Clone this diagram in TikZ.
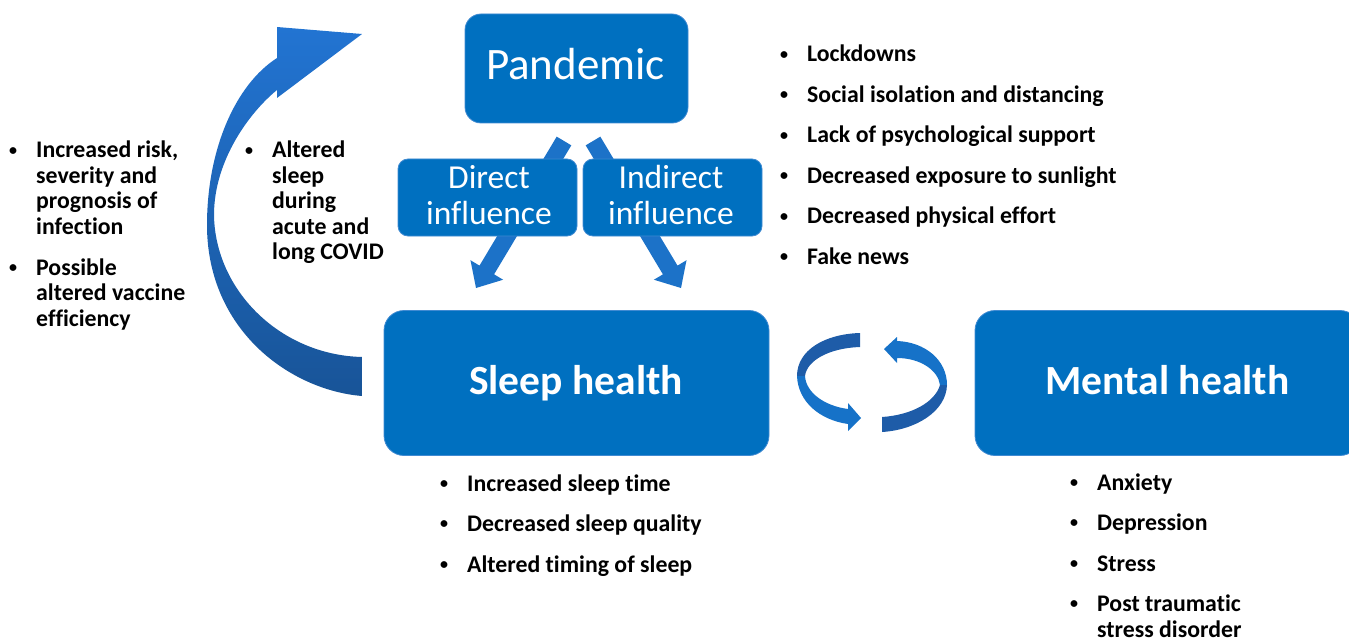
\documentclass[tikz,border=0pt]{standalone}
\usepackage{fontspec}
\setmainfont{Carlito}[Ligatures=NoCommon]
\usetikzlibrary{calc}

\definecolor{boxblue}{RGB}{0,112,192}
\definecolor{boxedge}{RGB}{64,138,210}
\definecolor{arrblue}{RGB}{28,114,200}
\definecolor{ribdark}{RGB}{30,92,168}
\definecolor{riblight}{RGB}{22,114,200}
\definecolor{curtop}{RGB}{34,116,210}
\definecolor{curbot}{RGB}{24,84,152}

% small bullet followed by a fixed gap
\newcommand\bul{\makebox[28pt][l]{\hspace{1pt}\raisebox{2.8pt}{\fontsize{16}{16}\selectfont •}}}

% straight block arrow from coordinate #1 to tip #2
\newcommand\flowarrow[2]{%
  \coordinate (#1-b) at ($(#2)!21pt!(#1)$);
  \fill[arrblue] ($(#1)!8.5pt!90:(#2)$) -- ($(#1-b)!8.5pt!90:(#2)$)
    -- ($(#1-b)!19pt!90:(#2)$) -- (#2) -- ($(#1-b)!19pt!-90:(#2)$)
    -- ($(#1-b)!8.5pt!-90:(#2)$) -- ($(#1)!8.5pt!-90:(#2)$) -- cycle;}

\begin{document}
\begin{tikzpicture}[x=1pt,y=-1pt,
  box/.style={draw=boxedge, line width=0.8pt, fill=boxblue,
    inner sep=0pt, outer sep=0pt},
  boxtxt/.style={text=white, inner sep=0pt, anchor=base},
  bullets/.style={inner sep=0pt, anchor=base west, align=left,
    font=\bfseries\fontsize{23.8}{25.5}\selectfont}]

\useasboundingbox (0,0) rectangle (1349,639);
\clip (0,0) rectangle (1349,639);

% block arrows from the pandemic down to sleep health
\coordinate (ds) at (564,141);
\coordinate (dt) at (476,288);
\coordinate (is) at (593,141);
\coordinate (it) at (681,288);
\flowarrow{ds}{dt}
\flowarrow{is}{it}

% boxes
\node[box, rounded corners=16pt, minimum width=223pt, minimum height=109pt] (pand) at (576.5,68.5) {};
\node[box, rounded corners=10pt, minimum width=179pt, minimum height=77pt] (dir) at (487.5,197.5) {};
\node[box, rounded corners=10pt, minimum width=179pt, minimum height=77pt] (ind) at (672.5,197.5) {};
\node[box, rounded corners=20pt, minimum width=385pt, minimum height=145pt] (sleep) at (576.5,383) {};
\node[box, rounded corners=20pt, minimum width=385pt, minimum height=145pt] (mental) at (1167.5,383) {};

% box captions
\node[boxtxt, font=\fontsize{45}{50}\selectfont] (pandtxt) at ($(pand.center)+(-1,11.5)$) {Pandemic};
\node[boxtxt, font=\fontsize{33.5}{36}\selectfont] (dirtxt) at ($(dir.center)+(1.5,-8.5)$)
  {\begin{tabular}[t]{@{}c@{}}Direct\\influence\end{tabular}};
\node[boxtxt, font=\fontsize{33.5}{36}\selectfont] (indtxt) at ($(ind.center)+(-1.5,-8.5)$)
  {\begin{tabular}[t]{@{}c@{}}Indirect\\influence\end{tabular}};
\node[boxtxt, font=\bfseries\fontsize{41.5}{48}\selectfont] (sleeptxt) at ($(sleep.center)+(-0.5,11)$) {Sleep health};
\node[boxtxt, font=\bfseries\fontsize{41.5}{48}\selectfont] (mentaltxt) at ($(mental.center)+(0,11)$) {Mental health};

% large curved arrow from sleep health back up to the pandemic
\shade[top color=curtop, bottom color=curbot]
  (362,396) .. controls (290,390) and (207,330) .. (207,225)
  .. controls (207,150) and (235,85) .. (277,58)
  -- (277,27) -- (362,34) -- (277,98) -- (277,90)
  .. controls (250,112) and (214,160) .. (214,215)
  .. controls (215,290) and (280,355) .. (362,357) -- cycle;

% pair of circular arrows between sleep and mental health
\fill[ribdark] (860,333) .. controls (825,334) and (797,350) .. (797,376)
  -- (805,376) .. controls (807,360) and (830,348) .. (860,347) -- cycle;
\fill[riblight] (797,376) .. controls (798,402) and (820,420) .. (848,424)
  -- (848,431) -- (861,418) -- (848,403) -- (848,409)
  .. controls (825,406) and (806,393) .. (805,376) -- cycle;
\fill[riblight] (897,341) .. controls (925,342) and (947,360) .. (947,385)
  -- (940,385) .. controls (938,370) and (920,358) .. (897,358)
  -- (897,363) -- (884,349) -- (897,337) -- cycle;
\fill[ribdark] (947,385) .. controls (946,412) and (915,430) .. (882,432)
  -- (882,417) .. controls (912,415) and (935,402) .. (940,385) -- cycle;

% bullet lists
\node[bullets] (causes) at (779,62) {\begin{tabular}[t]{@{}l@{}l@{}}
  \bul & Lockdowns\\[15pt]
  \bul & Social isolation and distancing\\[15pt]
  \bul & Lack of psychological support\\[15pt]
  \bul & Decreased exposure to sunlight\\[15pt]
  \bul & Decreased physical effort\\[15pt]
  \bul & Fake news
\end{tabular}};

\node[bullets] (immune) at (8,158) {\begin{tabular}[t]{@{}l@{}l@{}}
  \bul & Increased risk,\\
       & severity and\\
       & prognosis of\\
       & infection\\[15.5pt]
  \bul & Possible\\
       & altered vaccine\\
       & efficiency
\end{tabular}};

\node[bullets] (covid) at (244,158) {\begin{tabular}[t]{@{}l@{}l@{}}
  \bul & Altered\\
       & sleep\\
       & during\\
       & acute and\\
       & long COVID
\end{tabular}};

\node[bullets] (sleeplist) at (439,491) {\begin{tabular}[t]{@{}l@{}l@{}}
  \bul & Increased sleep time\\[15pt]
  \bul & Decreased sleep quality\\[15pt]
  \bul & Altered timing of sleep
\end{tabular}};

\node[bullets] (mentallist) at (1069,490) {\begin{tabular}[t]{@{}l@{}l@{}}
  \bul & Anxiety\\[15pt]
  \bul & Depression\\[15pt]
  \bul & Stress\\[15pt]
  \bul & Post traumatic\\
       & stress disorder
\end{tabular}};

\end{tikzpicture}
\end{document}
